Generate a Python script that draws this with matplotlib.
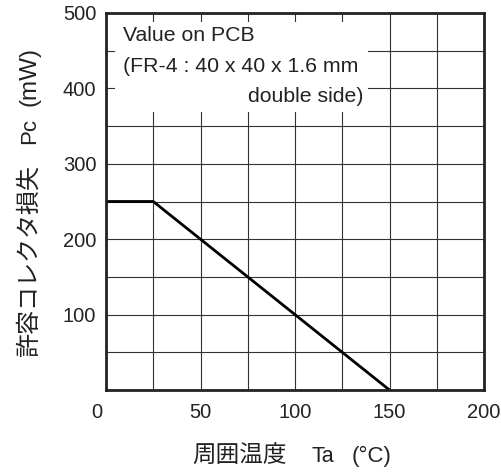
import matplotlib
matplotlib.use('Agg')
import matplotlib.pyplot as plt
from matplotlib.patches import Rectangle
from matplotlib.transforms import ScaledTranslation

# derating curve: collector power dissipation vs ambient temperature
temp_c = [0, 25, 150]
power_mw = [250, 250, 0]

x_ticks = [0, 50, 100, 150, 200]
y_ticks = [100, 200, 300, 400, 500]
x_grid = list(range(0, 201, 25))
y_grid = list(range(0, 501, 50))

note_lines = ['Value on PCB', '(FR-4 : 40 x 40 x 1.6 mm', 'double side)']

LATIN = ['Liberation Sans', 'DejaVu Sans']
CJK = ['Noto Sans CJK JP', 'Liberation Sans', 'DejaVu Sans']
INK = '#222222'

plt.rcParams['font.family'] = LATIN

W, H = 501, 475
fig = plt.figure(figsize=(W / 100, H / 100), dpi=100)
ax = fig.add_axes([106 / W, 1 - 390 / H, 378 / W, 377 / H])

ax.set_xlim(0, 200)
ax.set_ylim(0, 500)

for gx in x_grid:
    ax.axvline(gx, color='#333333', lw=0.8, zorder=1)
for gy in y_grid:
    ax.axhline(gy, color='#333333', lw=0.8, zorder=1)

# white note box hiding the grid
ax.add_patch(Rectangle((4.8, 369), 133.8, 119, facecolor='white',
                       edgecolor='none', zorder=2))
ax.text(9.0, 470, note_lines[0], fontsize=15.3, color=INK,
        va='center', ha='left', zorder=3)
ax.text(9.0, 429, note_lines[1], fontsize=15.3, color=INK,
        va='center', ha='left', zorder=3)
ax.text(136.5, 389, note_lines[2], fontsize=15.3, color=INK,
        va='center', ha='right', zorder=3)

ax.plot(temp_c, power_mw, color='black', lw=2.0, zorder=4,
        solid_capstyle='butt')

ax.set_xticks(x_ticks)
ax.set_yticks(y_ticks)
ax.tick_params(length=0, labelsize=14.5, colors=INK)
ax.tick_params(axis='x', pad=9)
ax.tick_params(axis='y', pad=7)

# the origin label sits a little left of the axis corner
lbl0 = ax.get_xticklabels()[0]
lbl0.set_transform(lbl0.get_transform() +
                   ScaledTranslation(-9 / 100, 0, fig.dpi_scale_trans))

for sp in ax.spines.values():
    sp.set_linewidth(2.0)
    sp.set_color(INK)
    sp.set_zorder(5)


def fig_text(px, py, s, size, family, rot=0):
    fig.text(px / W, 1 - py / H, s, fontsize=size, family=family,
             color=INK, ha='center', va='center', rotation=rot)


# x axis title
fig_text(239.5, 456, '周囲温度', 17.0, CJK)
fig_text(323, 456, 'Ta', 15.5, LATIN)
fig_text(371.5, 456, '(°C)', 16.0, LATIN)

# y axis title
fig_text(29, 261, '許容コレクタ損失', 17.3, CJK, rot=90)
fig_text(30, 130.5, 'Pc', 16.0, LATIN, rot=90)
fig_text(30, 77, '(mW)', 17.5, LATIN, rot=90)

fig.savefig('out.png', dpi=100)
